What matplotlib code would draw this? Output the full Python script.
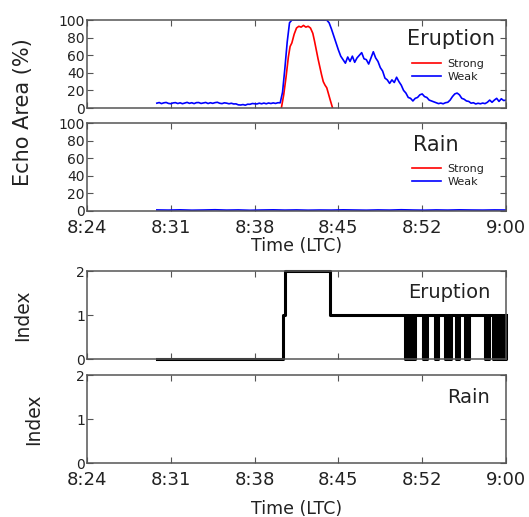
import matplotlib
matplotlib.use('Agg')
import matplotlib.pyplot as plt
import numpy as np

# time axis: minutes after 8:24 LTC
tick_pos = [0, 7.2, 14.4, 21.6, 28.8, 36]
tick_labels = ['8:24', '8:31', '8:38', '8:45', '8:52', '9:00']

# eruption echo area, weak (sampled every 0.2 min from 8:30)
weak_t = np.round(np.arange(6.0, 36.01, 0.2), 1)
weak_erupt = [
    5.5, 6.2, 5.0, 5.9, 6.3, 5.2, 4.9, 5.8, 6.1, 5.1,
    5.9, 4.9, 5.7, 6.4, 5.3, 6.0, 5.0, 6.1, 6.2, 5.2,
    5.8, 6.3, 5.1, 6.0, 5.3, 6.1, 6.5, 5.4, 5.0, 5.9,
    5.5, 4.8, 5.4, 4.6, 4.7, 3.6, 3.4, 3.9, 3.2, 4.3,
    4.2, 5.1, 4.9, 4.6, 5.5, 4.8, 5.6, 4.8, 5.7, 5.1,
    5.8, 5.2, 6.0, 5.9, 18, 45, 75, 97, 100, 100,
    100, 100, 100, 100, 100, 100, 100, 100, 100, 100,
    100, 100, 100, 100, 97, 90, 82, 74, 66, 59,
    55, 51, 58, 53, 59, 52, 57, 60, 63, 56,
    55, 50, 57, 64, 57, 53, 46, 42, 34, 32,
    28, 32, 29, 35, 30, 26, 20, 17, 12, 11,
    8, 11, 12, 15, 16, 13, 12, 9, 8, 7,
    6, 5, 5.6, 4.8, 6.0, 6.5, 9, 13, 16, 17,
    15, 11, 10, 8, 7.5, 5.5, 6, 4.6, 5.4, 4.8,
    5.6, 5.0, 6.5, 9, 6.5, 9, 11, 7.5, 10.5, 8.5,
    9,
]

# eruption echo area, strong
strong_t = [16.7, 16.9, 17.1, 17.3, 17.45, 17.6, 17.8, 18.0, 18.2, 18.4,
            18.6, 18.8, 19.0, 19.2, 19.4, 19.55, 19.7, 19.85, 20.0, 20.15,
            20.3, 20.45, 20.6, 20.75, 20.9, 21.1]
strong_erupt = [0, 15, 35, 58, 70, 74, 84, 91, 93, 92,
                94, 92, 93, 91, 85, 76, 66, 56, 47, 38,
                30, 26, 23, 16, 9, 0]

# rain echo area, weak (every 1 min)
rain_t = np.arange(6, 37, 1)
rain_weak = [1.2, 1.0, 1.3, 0.9, 1.1, 1.4, 1.0, 1.2, 0.8, 1.1,
             1.3, 1.0, 1.2, 0.9, 1.1, 1.0, 1.3, 1.1, 0.9, 1.2,
             1.0, 1.4, 1.1, 0.9, 1.2, 1.0, 1.3, 1.1, 1.0, 1.2, 1.1]

# eruption index: change points, then 0.1 min samples from 27.3
idx_head_t = [6.0, 16.8, 17.0, 20.9]
idx_head_v = [0, 1, 2, 1]
idx_tail = ('010101010' '1111111' '0101' '111111' '0101' '11111' '01010'
            '1111' '0101' '1111' '0101' '1111111111111' '010' '1111'
            '010101010101')
idx_tail_t = np.round(np.arange(27.3, 36.01, 0.1), 1)

TXT = '#222222'
SP = '#555555'

fig = plt.figure(figsize=(5.29, 5.17), dpi=100)
L, W = 0.1645, 0.792
H = 0.170
axs = [fig.add_axes([L, b, W, H]) for b in (0.7911, 0.5919, 0.3056, 0.1044)]

for ax in axs:
    ax.set_xlim(0, 36)
    ax.set_xticks(tick_pos)
    ax.set_xticklabels(tick_labels)
    ax.tick_params(direction='in', top=True, right=True, length=4,
                   color=SP, labelcolor=TXT)
    ax.tick_params(axis='x', labelsize=13, pad=6)
    ax.tick_params(axis='y', labelsize=10, pad=1.5)
    for s in ax.spines.values():
        s.set_color(SP)
        s.set_linewidth(1.1)

for ax in axs[:2]:
    ax.set_ylim(0, 100)
    ax.set_yticks(range(0, 101, 20))
for ax in axs[2:]:
    ax.set_ylim(0, 2)
    ax.set_yticks([0, 1, 2])

axs[0].tick_params(axis='x', labelbottom=False)
axs[2].tick_params(axis='x', labelbottom=False)

# echo area panels
axs[0].plot(strong_t, strong_erupt, color='red', lw=1.2, label='Strong')
axs[0].plot(weak_t, weak_erupt, color='blue', lw=1.2, label='Weak')
axs[1].plot([], [], color='red', lw=1.2, label='Strong')
axs[1].plot(rain_t, rain_weak, color='blue', lw=1.2, label='Weak')

for ax, yc in ((axs[0], 0.426), (axs[1], 0.403)):
    ax.legend(loc='center left', bbox_to_anchor=(0.775, yc), frameon=False,
              fontsize=8, handlelength=2.6, handletextpad=0.6,
              labelspacing=0.3, borderpad=0, borderaxespad=0,
              labelcolor=TXT)

axs[0].text(0.764, 0.784, 'Eruption', transform=axs[0].transAxes,
            fontsize=15, color=TXT, va='center', ha='left')
axs[1].text(0.778, 0.75, 'Rain', transform=axs[1].transAxes,
            fontsize=15, color=TXT, va='center', ha='left')

# index panels
idx_t = list(idx_head_t) + list(idx_tail_t)
idx_v = idx_head_v + [int(c) for c in idx_tail]
axs[2].plot(idx_t, idx_v, color='black', lw=2.2, drawstyle='steps-post',
            clip_on=False)
axs[2].text(0.766, 0.761, 'Eruption', transform=axs[2].transAxes,
            fontsize=14, color=TXT, va='center', ha='left')
axs[3].text(0.859, 0.75, 'Rain', transform=axs[3].transAxes,
            fontsize=14, color=TXT, va='center', ha='left')

fig.text(23 / 529, 1 - 112 / 517, 'Echo Area (%)', rotation=90,
         fontsize=15, color=TXT, ha='center', va='center')
axs[2].set_ylabel('Index', fontsize=13.5, color=TXT)
axs[2].yaxis.set_label_coords(-0.131, 0.5)
axs[3].set_ylabel('Index', fontsize=13.5, color=TXT)
axs[3].yaxis.set_label_coords(-0.105, 0.5)

axs[1].set_xlabel('Time (LTC)', fontsize=12.5, color=TXT)
axs[1].xaxis.set_label_coords(0.5, -0.30)
axs[3].set_xlabel('Time (LTC)', fontsize=12.5, color=TXT)
axs[3].xaxis.set_label_coords(0.5, -0.42)

fig.savefig('out.png', dpi=100)
